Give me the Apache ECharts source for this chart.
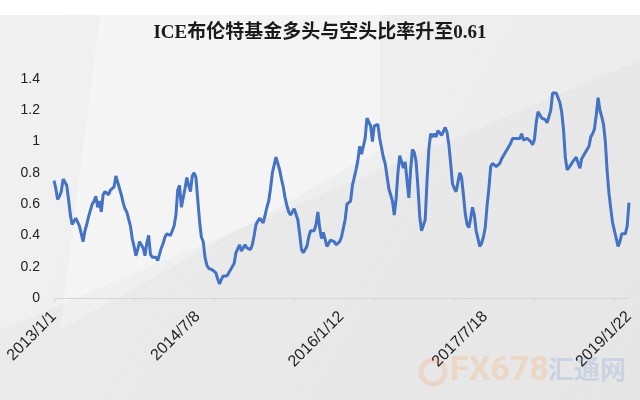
<!DOCTYPE html>
<html>
<head>
<meta charset="utf-8">
<script src="https://cdn.jsdelivr.net/npm/echarts@6/dist/echarts.min.js"></script>
<style>
html,body{margin:0;padding:0;background:#eeeeee;}
#chart{width:640px;height:400px;}
</style>
</head>
<body>
<div id="chart"></div>
<script>
// Chart title
var titleText = 'ICE布伦特基金多头与空头比率升至0.61';

// Weekly categories: first week and number of weeks
var startDate = [2013, 1, 1];
var weekCount = 317;

// Y-axis ticks
var yTicks = [0, 0.2, 0.4, 0.6, 0.8, 1, 1.2, 1.4];

// Long/short ratio, weekly values
var ratio = [
0.75,0.70,0.63,0.65,0.68,0.76,0.77,0.72,0.63,0.53,
0.47,0.49,0.51,0.52,0.46,0.41,0.36,0.43,0.47,0.52,
0.56,0.60,0.62,0.65,0.58,0.62,0.55,0.66,0.68,0.68,
0.66,0.69,0.70,0.71,0.78,0.74,0.70,0.66,0.61,0.57,
0.55,0.54,0.46,0.38,0.33,0.27,0.31,0.36,0.37,0.32,
0.27,0.35,0.40,0.28,0.26,0.27,0.26,0.24,0.28,0.32,
0.35,0.39,0.41,0.42,0.40,0.43,0.46,0.53,0.69,0.72,
0.58,0.59,0.70,0.77,0.72,0.68,0.78,0.80,0.77,0.63,
0.49,0.39,0.36,0.26,0.21,0.19,0.18,0.18,0.19,0.16,
0.12,0.09,0.12,0.14,0.15,0.14,0.16,0.18,0.17,0.22,
0.29,0.29,0.34,0.30,0.31,0.34,0.32,0.32,0.31,0.34,
0.40,0.47,0.49,0.51,0.50,0.48,0.53,0.58,0.62,0.70,
0.80,0.79,0.90,0.89,0.82,0.76,0.71,0.64,0.59,0.55,
0.53,0.53,0.57,0.56,0.50,0.41,0.31,0.29,0.31,0.33,
0.39,0.43,0.42,0.43,0.47,0.55,0.45,0.38,0.42,0.41,
0.33,0.35,0.37,0.38,0.36,0.34,0.33,0.36,0.39,0.40,
0.50,0.60,0.60,0.62,0.72,0.77,0.82,0.88,0.97,0.92,
0.93,1.02,1.15,1.16,1.10,1.00,1.10,1.09,1.11,1.02,
0.96,0.90,0.86,0.78,0.70,0.66,0.62,0.53,0.63,0.80,
0.91,0.92,0.83,0.87,0.75,0.64,0.82,0.95,0.93,0.87,
0.71,0.52,0.43,0.44,0.50,0.75,0.95,1.05,1.03,1.05,
1.03,1.07,1.08,1.04,1.03,1.09,1.06,0.98,0.86,0.73,
0.70,0.68,0.74,0.80,0.77,0.66,0.54,0.47,0.45,0.51,
0.58,0.53,0.43,0.38,0.33,0.35,0.39,0.45,0.59,0.70,
0.84,0.86,0.85,0.84,0.84,0.86,0.89,0.91,0.93,0.95,
0.94,0.99,1.02,1.01,1.02,1.01,1.02,1.05,1.01,1.01,
1.02,1.01,1.00,0.98,1.01,1.12,1.19,1.20,1.15,1.14,
1.14,1.12,1.13,1.20,1.31,1.32,1.31,1.31,1.25,1.19,
1.08,0.90,0.82,0.82,0.85,0.87,0.88,0.90,0.90,0.83,
0.89,0.91,0.93,0.93,0.97,1.03,1.05,1.08,1.17,1.28,
1.20,1.16,1.11,1.00,0.81,0.67,0.57,0.48,0.43,0.38,
0.33,0.36,0.41,0.41,0.41,0.46,0.61
];

// Build weekly date categories
var categories = [];
(function(){
  var d = new Date(Date.UTC(startDate[0], startDate[1]-1, startDate[2]));
  for (var i = 0; i < weekCount; i++) {
    var t = new Date(d.getTime() + i * 7 * 86400000);
    categories.push(t.getUTCFullYear() + '/' + (t.getUTCMonth()+1) + '/' + t.getUTCDate());
  }
})();

var chart = echarts.init(document.getElementById('chart'), null, {renderer:'canvas'});
chart.setOption({
  animation: false,
  backgroundColor: '#eeeeee',
  graphic: [
    {type:'polygon', z:-10, silent:true, shape:{points:[[0,15],[640,15],[640,400],[0,400]]},
     style:{fill:new echarts.graphic.LinearGradient(0,0,1,1,[{offset:0,color:'#f1f1f1'},{offset:1,color:'#ebebeb'}])}},
    {type:'polygon', z:-9, silent:true, shape:{points:[[100,15],[380,15],[380,150],[60,330]]},
     style:{fill:'rgba(255,255,255,0.35)'}},
    {type:'polygon', z:-9, silent:true, shape:{points:[[0,330],[640,60],[640,400],[0,400]]},
     style:{fill:'rgba(0,0,0,0.02)'}},
    {type:'rect', z:-8, silent:true, shape:{x:0,y:0,width:640,height:15}, style:{fill:'#ffffff'}},
    {type:'circle', z:-5, silent:true, shape:{cx:433,cy:372,r:12}, style:{fill:'none', stroke:'rgba(240,160,110,0.25)', lineWidth:5}},
    {type:'text', z:-5, silent:true, left:450, top:354,
     style:{text:'FX678', fill:'rgba(245,180,120,0.32)', font:'bold 34px "Liberation Sans Narrow", "Roboto", sans-serif'}},
    {type:'text', z:-5, silent:true, left:548, top:356,
     style:{text:'汇通网', fill:'rgba(130,160,205,0.28)', font:'bold 26px "Noto Sans CJK SC", sans-serif'}}
  ],
  title: {
    text: titleText,
    left: 'center',
    top: 19,
    textStyle: {
      fontFamily: '"Liberation Serif", "Times New Roman", "Noto Sans CJK SC", serif',
      fontWeight: 'bold',
      fontSize: 19,
      color: '#1a1a1a'
    }
  },
  grid: {left: 54, right: 11, top: 79, bottom: 102, containLabel: false},
  xAxis: {
    type: 'category',
    data: categories,
    boundaryGap: false,
    axisLine: {show: true, lineStyle: {color: '#d6d6d6', width: 1}},
    axisTick: {show: true, interval: 43, length: 4, lineStyle: {color: '#d6d6d6'}},
    axisLabel: {
      interval: 78,
      rotate: 45,
      color: '#222',
      fontSize: 16,
      fontFamily: '"Liberation Sans", Arial, sans-serif',
      margin: 16
    },
    splitLine: {show: false}
  },
  yAxis: {
    type: 'value',
    min: yTicks[0],
    max: yTicks[yTicks.length-1],
    interval: 0.2,
    axisLine: {show: false},
    axisTick: {show: false},
    splitLine: {show: false},
    axisLabel: {
      color: '#222',
      fontSize: 14,
      margin: 14,
      fontFamily: '"Liberation Sans", Arial, sans-serif',
      formatter: function(v){ return String(Math.round(v*10)/10); }
    }
  },
  series: [{
    type: 'line',
    data: ratio,
    showSymbol: false,
    symbol: 'none',
    lineStyle: {color: '#4472c4', width: 3},
    itemStyle: {color: '#4472c4'}
  }]
});
</script>
</body>
</html>
